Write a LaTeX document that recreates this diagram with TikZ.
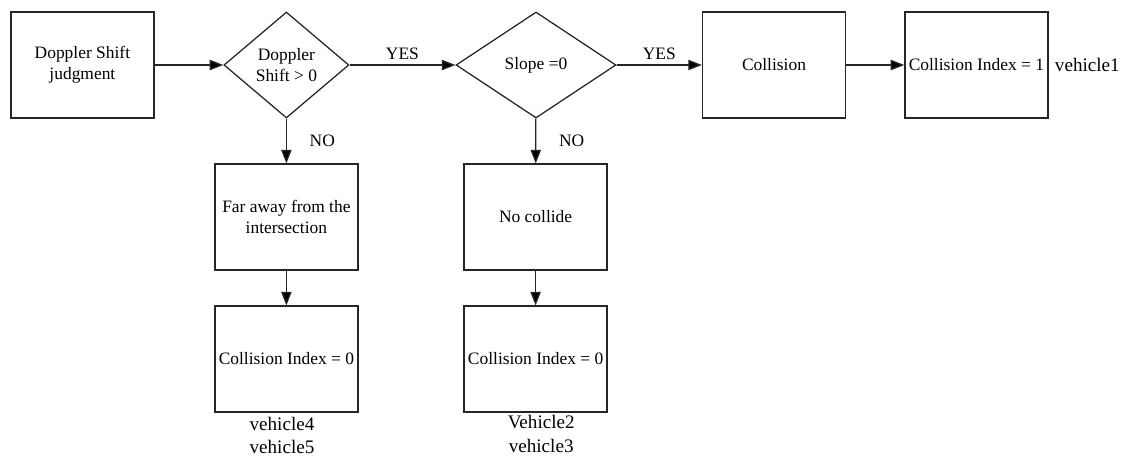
\documentclass[tikz,border=0pt]{standalone}
\usepackage{fontspec}
\setmainfont{Liberation Serif}
\usetikzlibrary{shapes.geometric,arrows.meta}

\begin{document}
\begin{tikzpicture}[
    every node/.style={font=\fontsize{12.4}{15}\selectfont},
    box/.style={draw=black!85,line width=0.9pt,minimum width=3.575cm,minimum height=2.65cm,align=center,inner sep=1pt},
    decision/.style={draw=black!85,diamond,line width=0.9pt,minimum height=2.65cm,align=center,inner sep=0pt},
    vehicle/.style={font=\fontsize{13.6}{16.5}\selectfont,align=center},
    >={Triangle[length=3.4mm,width=2.6mm]}]
  \useasboundingbox (0,0) rectangle (28.075,-11.475);

  \node[box] (judge) at (2.06,-1.625) {Doppler Shift\\judgment};
  \node[decision,minimum width=3.125cm] (shift) at (7.16,-1.625) {Doppler\\Shift > 0};
  \node[decision,minimum width=4cm] (slope) at (13.4,-1.625) {Slope =0};
  \node[box] (collision) at (19.35,-1.625) {Collision};
  \node[box] (index1) at (24.41,-1.625) {Collision Index = 1};
  \node[vehicle,anchor=west] (v1) at (26.25,-1.625) {vehicle1};

  \node[box] (faraway) at (7.16,-5.425) {Far away from the\\intersection};
  \node[box] (indexa) at (7.16,-8.975) {Collision Index = 0};
  \node[vehicle] (v45) at (7.05,-10.88) {vehicle4\\vehicle5};

  \node[box] (nocollide) at (13.39,-5.425) {No collide};
  \node[box] (indexb) at (13.39,-8.975) {Collision Index = 0};
  \node[vehicle] (v23) at (13.53,-10.85) {Vehicle2\\vehicle3};

  \path[->,draw=black!85,line width=0.9pt] (judge) edge (shift);
  \path[->,draw=black!85,line width=0.9pt] (shift) edge node[above] {YES} (slope);
  \path[->,draw=black!85,line width=0.9pt] (slope) edge node[above] {YES} (collision);
  \path[->,draw=black!85,line width=0.9pt] (collision) edge (index1);
  \path[->,draw=black!85,line width=0.9pt] (shift) edge node[right=0.45cm] {NO} (faraway);
  \path[->,draw=black!85,line width=0.9pt] (slope) edge node[right=0.45cm] {NO} (nocollide);
  \path[->,draw=black!85,line width=0.9pt] (faraway) edge (indexa);
  \path[->,draw=black!85,line width=0.9pt] (nocollide) edge (indexb);
\end{tikzpicture}
\end{document}
